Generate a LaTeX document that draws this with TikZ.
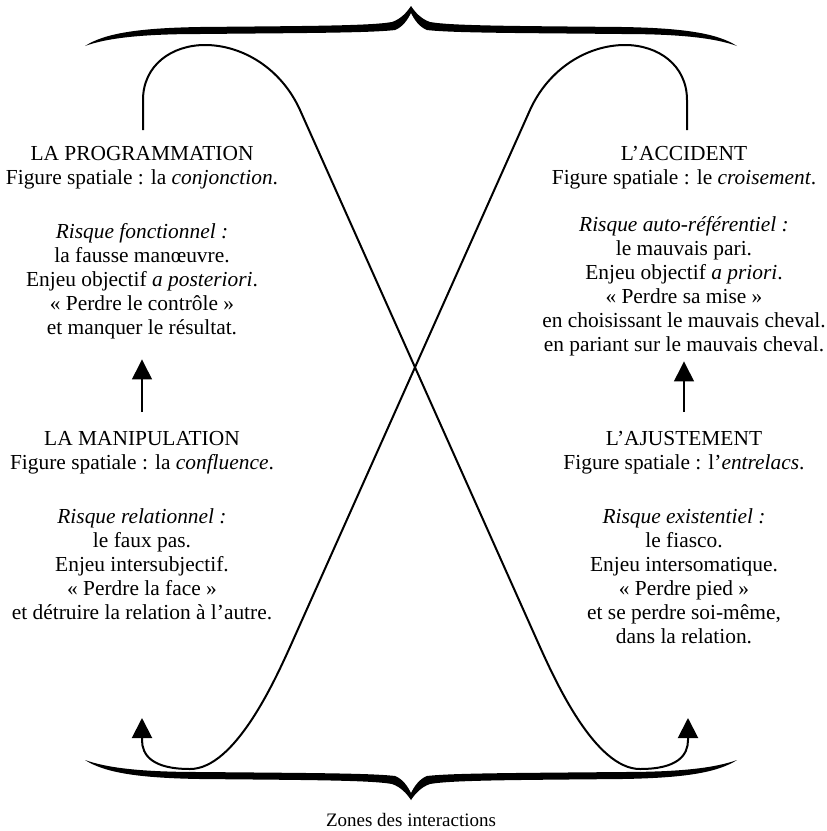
\documentclass[tikz,border=0pt]{standalone}
\usepackage{fontspec}
\setmainfont{Liberation Serif}
\usetikzlibrary{arrows.meta}

\begin{document}
\begin{tikzpicture}[x=0.5pt,y=-0.5pt,
  bloc/.style={align=center,inner sep=0pt,anchor=north,font=\fontsize{10.7}{12}\selectfont},
  courbe/.style={line width=1pt,-{Triangle[width=10pt,length=10pt]}},
  fleche/.style={line width=0.6pt,-{Triangle[width=10pt,length=10pt]},shorten <=9.5pt}]

\useasboundingbox (0,0) rectangle (826,831);

% accolades haut et bas
\foreach \sx/\sy/\oy in {1/1/6,-1/1/6,1/-1/800,-1/-1/800}
  \fill[shift={(411,\oy)},xscale=\sx,yscale=\sy]
    (-326,40) .. controls (-306,27) and (-271,22) .. (-211,21)
    .. controls (-111,20) and (-41,20) .. (-19,16)
    .. controls (-10,13) and (-4,6) .. (0,0) -- (0,7)
    .. controls (-3,13) and (-8,21) .. (-16,24)
    .. controls (-41,27) and (-111,27) .. (-211,28)
    .. controls (-269,28) and (-304,32) .. (-326,40) -- cycle;

\node[bloc] (prog) at (142,146) {LA PROGRAMMATION\\Figure spatiale : la \textit{conjonction}.};
\node[bloc] (progrisk) at (142,223) {\textit{Risque fonctionnel :}\\la fausse manœuvre.\\Enjeu objectif \textit{a posteriori}.\\« Perdre le contrôle »\\et manquer le résultat.};

\node[bloc] (acc) at (684,146) {L’ACCIDENT\\Figure spatiale : le \textit{croisement}.};
\node[bloc] (accrisk) at (684,216) {\textit{Risque auto-référentiel :}\\le mauvais pari.\\Enjeu objectif \textit{a priori}.\\« Perdre sa mise »\\en choisissant le mauvais cheval.\\en pariant sur le mauvais cheval.};

\node[bloc] (manip) at (142,431) {LA MANIPULATION\\Figure spatiale : la \textit{confluence}.};
\node[bloc] (maniprisk) at (142,508) {\textit{Risque relationnel :}\\le faux pas.\\Enjeu intersubjectif.\\« Perdre la face »\\et détruire la relation à l’autre.};

\node[bloc] (ajust) at (684,431) {L’AJUSTEMENT\\Figure spatiale : l’\textit{entrelacs}.};
\node[bloc] (ajustrisk) at (684,508) {\textit{Risque existentiel :}\\le fiasco.\\Enjeu intersomatique.\\« Perdre pied »\\et se perdre soi-même,\\dans la relation.};

\node[font=\fontsize{9.5}{11}\selectfont] (zones) at (411,820) {Zones des interactions};

\draw[fleche,shorten >=10pt] (manip.north) -- (progrisk.south);
\draw[fleche,shorten >=2.5pt] (ajust.north) -- (accrisk.south);

% les deux boucles croisees
\coordinate (pa) at (143,130);
\coordinate (pb) at (688,718);
\coordinate (qa) at (687,130);
\coordinate (qb) at (142,718);

\draw[courbe] (pa) -- (143,100) .. controls (143,65) and (172,45) .. (205,45)
  .. controls (242,45) and (281,68) .. (300,110) -- (540,647)
  .. controls (555,680) and (595,769) .. (640,769)
  .. controls (678,769) and (688,755) .. (688,740) -- (pb);
\draw[courbe] (qa) -- (687,100) .. controls (687,65) and (658,45) .. (625,45)
  .. controls (588,45) and (549,68) .. (530,110) -- (290,647)
  .. controls (275,680) and (235,769) .. (190,769)
  .. controls (152,769) and (142,755) .. (142,740) -- (qb);

\end{tikzpicture}
\end{document}
